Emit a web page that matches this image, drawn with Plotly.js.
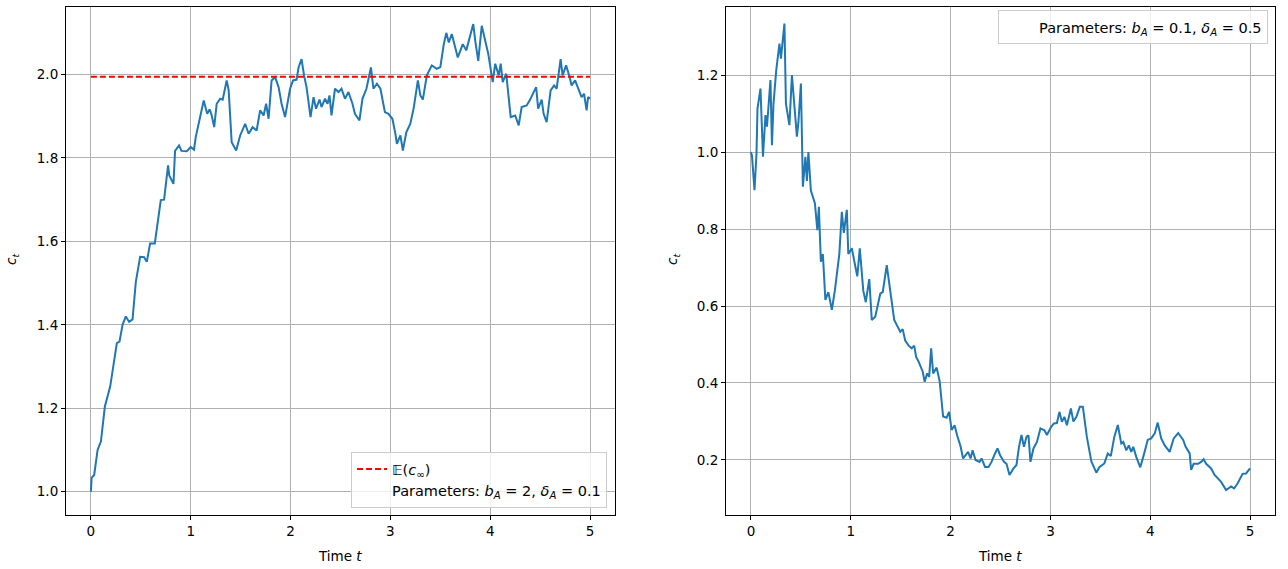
<!DOCTYPE html>
<html>
<head>
<meta charset="utf-8">
<script src="https://cdn.plot.ly/plotly-3.0.1.min.js"></script>
<style>html,body{margin:0;padding:0;background:#fff}#plot{width:1288px;height:569px}</style>
</head>
<body>
<div id="plot"></div>
<script>
// Left panel: b_A = 2, delta_A = 0.1
const tLeft = [0,0.007,0.033,0.067,0.10,0.127,0.14,0.193,0.233,0.26,0.287,0.317,0.35,0.383,0.417,0.45,0.493,0.533,0.56,0.593,0.64,0.70,0.733,0.773,0.785,0.827,0.843,0.883,0.907,0.96,1.0,1.033,1.05,
1.08,1.13,1.165,1.19,1.21,1.235,1.26,1.295,1.32,1.36,1.38,1.41,1.455,1.495,1.545,1.58,1.62,1.66,1.695,1.73,1.755,1.78,1.81,1.845,1.88,1.91,1.945,1.995,
2.025,2.06,2.08,2.11,2.135,2.16,2.2,2.23,2.255,2.29,2.31,2.345,2.37,2.39,2.41,2.445,2.48,2.51,2.545,2.58,2.62,2.645,2.69,2.72,2.76,2.805,2.83,2.865,2.9,2.945,2.98,
3.02,3.05,3.065,3.1,3.125,3.16,3.2,3.235,3.275,3.3,3.325,3.365,3.415,3.465,3.5,3.535,3.56,3.585,3.615,3.675,3.725,3.76,3.8,3.83,3.85,3.88,3.915,3.96,3.98,
4.025,4.05,4.085,4.105,4.125,4.16,4.205,4.25,4.285,4.315,4.365,4.4,4.435,4.46,4.48,4.515,4.535,4.565,4.605,4.64,4.665,4.705,4.725,4.76,4.795,4.815,4.85,4.885,4.915,4.94,4.965,4.98,5.0];
const cLeft = [1.0,1.033,1.04,1.10,1.12,1.172,1.204,1.252,1.32,1.356,1.36,1.40,1.42,1.407,1.413,1.503,1.563,1.562,1.551,1.595,1.595,1.699,1.70,1.782,1.758,1.738,1.817,1.83,1.817,1.816,1.826,1.82,1.85,
1.882,1.938,1.906,1.917,1.902,1.874,1.93,1.942,1.94,1.986,1.962,1.838,1.818,1.854,1.882,1.858,1.874,1.866,1.914,1.902,1.93,1.894,1.986,1.994,1.97,1.93,1.898,1.966,
1.986,1.988,2.017,2.037,1.998,1.97,1.898,1.946,1.918,1.94,1.922,1.942,1.93,1.95,1.902,1.966,1.958,1.966,1.942,1.958,1.93,1.906,1.89,1.942,1.966,2.017,1.966,1.978,1.966,1.91,1.906,
1.894,1.858,1.834,1.854,1.818,1.862,1.882,1.922,1.986,1.95,1.94,1.998,2.022,2.014,2.018,2.073,2.10,2.077,2.097,2.041,2.073,2.058,2.093,2.121,2.081,2.033,2.117,2.073,2.05,
1.982,2.026,1.998,2.026,1.982,2.002,1.898,1.902,1.878,1.922,1.926,1.94,1.958,1.97,1.918,1.94,1.906,1.886,1.962,1.974,1.966,2.037,1.998,2.022,1.994,1.974,1.986,1.962,1.946,1.954,1.914,1.946,1.942];
const expLimitT = [0, 5];
const expLimitC = [1.995, 1.995];

// Right panel: b_A = 0.1, delta_A = 0.5
const tRight = [0,0.01,0.035,0.055,0.065,0.095,0.12,0.145,0.16,0.195,0.21,0.225,0.253,0.285,0.3,0.335,0.35,0.385,0.41,0.43,0.46,0.475,0.5,0.52,0.545,0.56,0.575,0.6,0.64,0.665,0.68,0.7,0.72,0.745,0.775,0.81,0.84,0.885,0.91,0.93,0.96,0.975,
1.01,1.04,1.065,1.09,1.125,1.15,1.185,1.21,1.245,1.295,1.32,1.36,1.41,1.435,1.46,1.495,1.52,1.545,1.58,1.61,1.635,1.655,1.675,1.7,1.72,1.74,1.765,1.785,1.805,1.825,1.86,1.89,1.925,1.96,1.985,
2.01,2.04,2.065,2.1,2.125,2.175,2.2,2.22,2.25,2.29,2.31,2.345,2.38,2.41,2.445,2.47,2.495,2.535,2.56,2.59,2.63,2.66,2.685,2.71,2.735,2.76,2.78,2.8,2.83,2.865,2.9,2.94,2.965,
3.005,3.035,3.065,3.09,3.115,3.14,3.165,3.205,3.23,3.26,3.295,3.325,3.365,3.41,3.46,3.49,3.54,3.575,3.605,3.64,3.675,3.71,3.73,3.76,3.785,3.81,3.83,3.86,3.9,3.93,3.975,
4.01,4.045,4.075,4.11,4.145,4.195,4.235,4.28,4.33,4.355,4.395,4.41,4.435,4.48,4.51,4.535,4.56,4.61,4.645,4.675,4.71,4.76,4.81,4.84,4.875,4.925,4.96,5.0];
const cRight = [1.0,0.99,0.901,0.996,1.113,1.165,0.988,1.096,1.066,1.187,1.018,1.124,1.213,1.282,1.243,1.334,1.126,1.07,1.2,1.144,1.04,1.077,1.178,0.91,0.988,0.925,1.0,0.9,0.867,0.797,0.858,0.715,0.735,0.616,0.636,0.59,0.64,0.735,0.845,0.79,0.85,0.735,
0.75,0.71,0.677,0.75,0.64,0.61,0.67,0.564,0.572,0.632,0.636,0.706,0.61,0.564,0.551,0.533,0.54,0.51,0.497,0.49,0.497,0.467,0.458,0.44,0.43,0.403,0.425,0.416,0.49,0.425,0.44,0.405,0.313,0.31,0.325,
0.278,0.29,0.264,0.235,0.204,0.221,0.204,0.225,0.2,0.195,0.204,0.182,0.182,0.195,0.217,0.23,0.213,0.195,0.19,0.161,0.178,0.187,0.234,0.265,0.234,0.26,0.264,0.195,0.23,0.247,0.282,0.277,0.265,
0.285,0.295,0.296,0.325,0.299,0.312,0.29,0.334,0.3,0.312,0.338,0.338,0.26,0.196,0.167,0.181,0.191,0.217,0.21,0.26,0.291,0.243,0.247,0.225,0.238,0.221,0.234,0.208,0.181,0.208,0.252,
0.256,0.269,0.297,0.256,0.238,0.221,0.256,0.27,0.252,0.234,0.217,0.174,0.19,0.19,0.195,0.202,0.19,0.178,0.161,0.152,0.143,0.122,0.131,0.126,0.139,0.164,0.165,0.178];

const xTicks = [0,1,2,3,4,5];
const yTicksLeft = [1.0,1.2,1.4,1.6,1.8,2.0];
const yTicksRight = [0.2,0.4,0.6,0.8,1.0,1.2];
const xTitle = 'Time <i>t</i>';
const yTitle = '<i>c</i><sub><i>t</i></sub>';

const FONT = 'DejaVu Sans, sans-serif';
const blue = '#1f77b4';

const traces = [
  {x: tLeft, y: cLeft, type: 'scatter', mode: 'lines', line: {color: blue, width: 2}, showlegend: false, xaxis: 'x', yaxis: 'y'},
  {x: expLimitT, y: expLimitC, type: 'scatter', mode: 'lines', line: {color: 'red', width: 2, dash: '6px,3px'},
   name: '𝔼(<i>c</i><sub>∞</sub>)', xaxis: 'x', yaxis: 'y', legend: 'legend'},
  {x: [null], y: [null], type: 'scatter', mode: 'lines', line: {color: 'rgba(0,0,0,0)', width: 0},
   name: 'Parameters: <i>b</i><sub><i>A</i></sub> = 2, <i>δ</i><sub><i>A</i></sub> = 0.1', xaxis: 'x', yaxis: 'y', legend: 'legend'},
  {x: tRight, y: cRight, type: 'scatter', mode: 'lines', line: {color: blue, width: 2}, showlegend: false, xaxis: 'x2', yaxis: 'y2'},
  {x: [null], y: [null], type: 'scatter', mode: 'lines', line: {color: 'rgba(0,0,0,0)', width: 0},
   name: 'Parameters: <i>b</i><sub><i>A</i></sub> = 0.1, <i>δ</i><sub><i>A</i></sub> = 0.5', xaxis: 'x2', yaxis: 'y2', legend: 'legend2'}
];

function axisBase() {
  return {
    showline: true, mirror: true, linecolor: 'black', linewidth: 1,
    ticks: 'outside', ticklen: 4, tickwidth: 1, tickcolor: 'black',
    showgrid: true, gridcolor: '#b0b0b0', gridwidth: 1, zeroline: false,
    tickfont: {family: FONT, size: 13.5, color: 'black'}
  };
}

const layout = {
  width: 1288, height: 569,
  margin: {l: 0, r: 0, t: 0, b: 0},
  paper_bgcolor: 'white', plot_bgcolor: 'white',
  font: {family: FONT, size: 13.5, color: 'black'},
  xaxis: Object.assign(axisBase(), {domain: [0.0512, 0.4775], range: [-0.25, 5.25], tickvals: xTicks, ticktext: xTicks.map(String), anchor: 'y'}),
  yaxis: Object.assign(axisBase(), {domain: [0.0949, 0.9877], range: [0.944, 2.162], tickvals: yTicksLeft, ticktext: yTicksLeft.map(v => v.toFixed(1)), anchor: 'x'}),
  xaxis2: Object.assign(axisBase(), {domain: [0.5637, 0.9899], range: [-0.25, 5.25], tickvals: xTicks, ticktext: xTicks.map(String), anchor: 'y2'}),
  yaxis2: Object.assign(axisBase(), {domain: [0.0949, 0.9877], range: [0.057, 1.377], tickvals: yTicksRight, ticktext: yTicksRight.map(v => v.toFixed(1)), anchor: 'x2'}),
  annotations: [
    {text: xTitle, xref: 'paper', yref: 'paper', x: 0.264, y: 0.0228, xanchor: 'center', yanchor: 'middle', showarrow: false, font: {family: FONT, size: 13.5}},
    {text: xTitle, xref: 'paper', yref: 'paper', x: 0.7764, y: 0.0228, xanchor: 'center', yanchor: 'middle', showarrow: false, font: {family: FONT, size: 13.5}},
    {text: yTitle, xref: 'paper', yref: 'paper', x: 0.0093, y: 0.5448, xanchor: 'center', yanchor: 'middle', textangle: -90, showarrow: false, font: {family: FONT, size: 13.5}},
    {text: yTitle, xref: 'paper', yref: 'paper', x: 0.5225, y: 0.5448, xanchor: 'center', yanchor: 'middle', textangle: -90, showarrow: false, font: {family: FONT, size: 13.5}}
  ],
  legend: {x: 0.4713, y: 0.1072, xanchor: 'right', yanchor: 'bottom', bgcolor: 'rgba(255,255,255,0.8)',
    bordercolor: '#cccccc', borderwidth: 1, font: {family: FONT, size: 14.5, color: 'black'}, itemwidth: 30},
  legend2: {x: 0.9845, y: 0.9824, xanchor: 'right', yanchor: 'top', bgcolor: 'rgba(255,255,255,0.8)',
    bordercolor: '#cccccc', borderwidth: 1, font: {family: FONT, size: 14.5, color: 'black'}, itemwidth: 30}
};

Plotly.newPlot('plot', traces, layout, {displayModeBar: false, staticPlot: true});
</script>
</body>
</html>
